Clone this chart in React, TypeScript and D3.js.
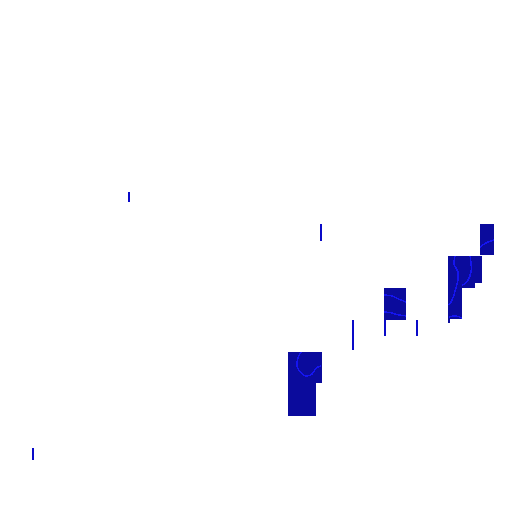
import React, { useRef, useEffect } from 'react';
import * as d3 from 'd3';

// thin single-cell marks: column, top value, length
const lineCols = [1, 4, 10, 11, 12, 13];
const lineTops = [2, 10, 9, 6, 6, 6];
const lineLens = [0.38, 0.31, 0.53, 0.94, 0.5, 0.5];

// filled cells: column, top value, width, height
const blockCols = [9, 9, 12, 15, 14, 14, 14, 14];
const blockTops = [5, 4.03, 7, 9, 8, 7.16, 7, 6.03];
const blockWidths = [1.06, 0.88, 0.69, 0.44, 1.06, 0.84, 0.44, 0.06];
const blockHeights = [0.97, 1.03, 1, 0.97, 0.84, 0.16, 0.97, 0.13];

// contour traces inside the cells
const contourA = [[9.41, 5], [9.31, 4.81], [9.28, 4.56], [9.38, 4.38], [9.56, 4.25], [9.75, 4.31], [9.88, 4.5], [10.03, 4.56]];
const contourB1 = [[12, 6.78], [12.25, 6.75], [12.44, 6.66], [12.69, 6.56]];
const contourB2 = [[12, 6.25], [12.25, 6.22], [12.44, 6.16], [12.69, 6.13]];
const contourC1 = [[14.22, 8], [14.19, 7.75], [14.31, 7.5], [14.31, 7.25], [14.25, 7], [14.13, 6.63], [14.03, 6.47]];
const contourC2 = [[14.69, 8], [14.72, 7.5], [14.56, 7.16], [14.44, 7.09]];
const contourC3 = [[15, 8.28], [15.19, 8.41], [15.44, 8.5]];
const contourC4 = [[14.03, 6.09], [14.22, 6.13], [14.44, 6.06]];
const contours = [contourA, contourB1, contourB2, contourC1, contourC2, contourC3, contourC4];

const W = 512;
const H = 512;

export default function App() {
  const svgRef = useRef<SVGSVGElement>(null);

  useEffect(() => {
    const svg = d3.select(svgRef.current);
    svg.selectAll('*').remove();

    const x = d3.scaleLinear().domain([0, 16]).range([0, W]);
    const y = d3.scaleLinear().domain([0, 16]).range([H, 0]);

    /* Cells */
    svg
      .selectAll('.block')
      .data(blockCols.map((c, i) => ({ c, t: blockTops[i], w: blockWidths[i], h: blockHeights[i] })))
      .join('rect')
      .attr('class', 'block')
      .attr('x', d => x(d.c))
      .attr('y', d => y(d.t))
      .attr('width', d => x(d.c + d.w) - x(d.c))
      .attr('height', d => y(d.t - d.h) - y(d.t))
      .attr('fill', '#0b0b9c')
      .attr('shape-rendering', 'crispEdges');

    /* Thin marks */
    svg
      .selectAll('.tick-mark')
      .data(lineCols.map((c, i) => ({ c, t: lineTops[i], l: lineLens[i] })))
      .join('rect')
      .attr('class', 'tick-mark')
      .attr('x', d => x(d.c))
      .attr('y', d => y(d.t))
      .attr('width', 2)
      .attr('height', d => y(d.t - d.l) - y(d.t))
      .attr('fill', '#0a0ac8')
      .attr('shape-rendering', 'crispEdges');

    /* Contour lines */
    const line = d3
      .line<number[]>()
      .x(p => x(p[0]))
      .y(p => y(p[1]))
      .curve(d3.curveCatmullRom);

    svg
      .selectAll('.contour')
      .data(contours)
      .join('path')
      .attr('class', 'contour')
      .attr('d', line)
      .attr('fill', 'none')
      .attr('stroke', '#1515f0')
      .attr('stroke-width', 1.5)
      .attr('shape-rendering', 'crispEdges');
  }, []);

  return (
    <svg
      ref={svgRef}
      width={W}
      height={H}
      style={{ position: 'fixed', left: 0, top: 0, background: '#fff' }}
    />
  );
}
